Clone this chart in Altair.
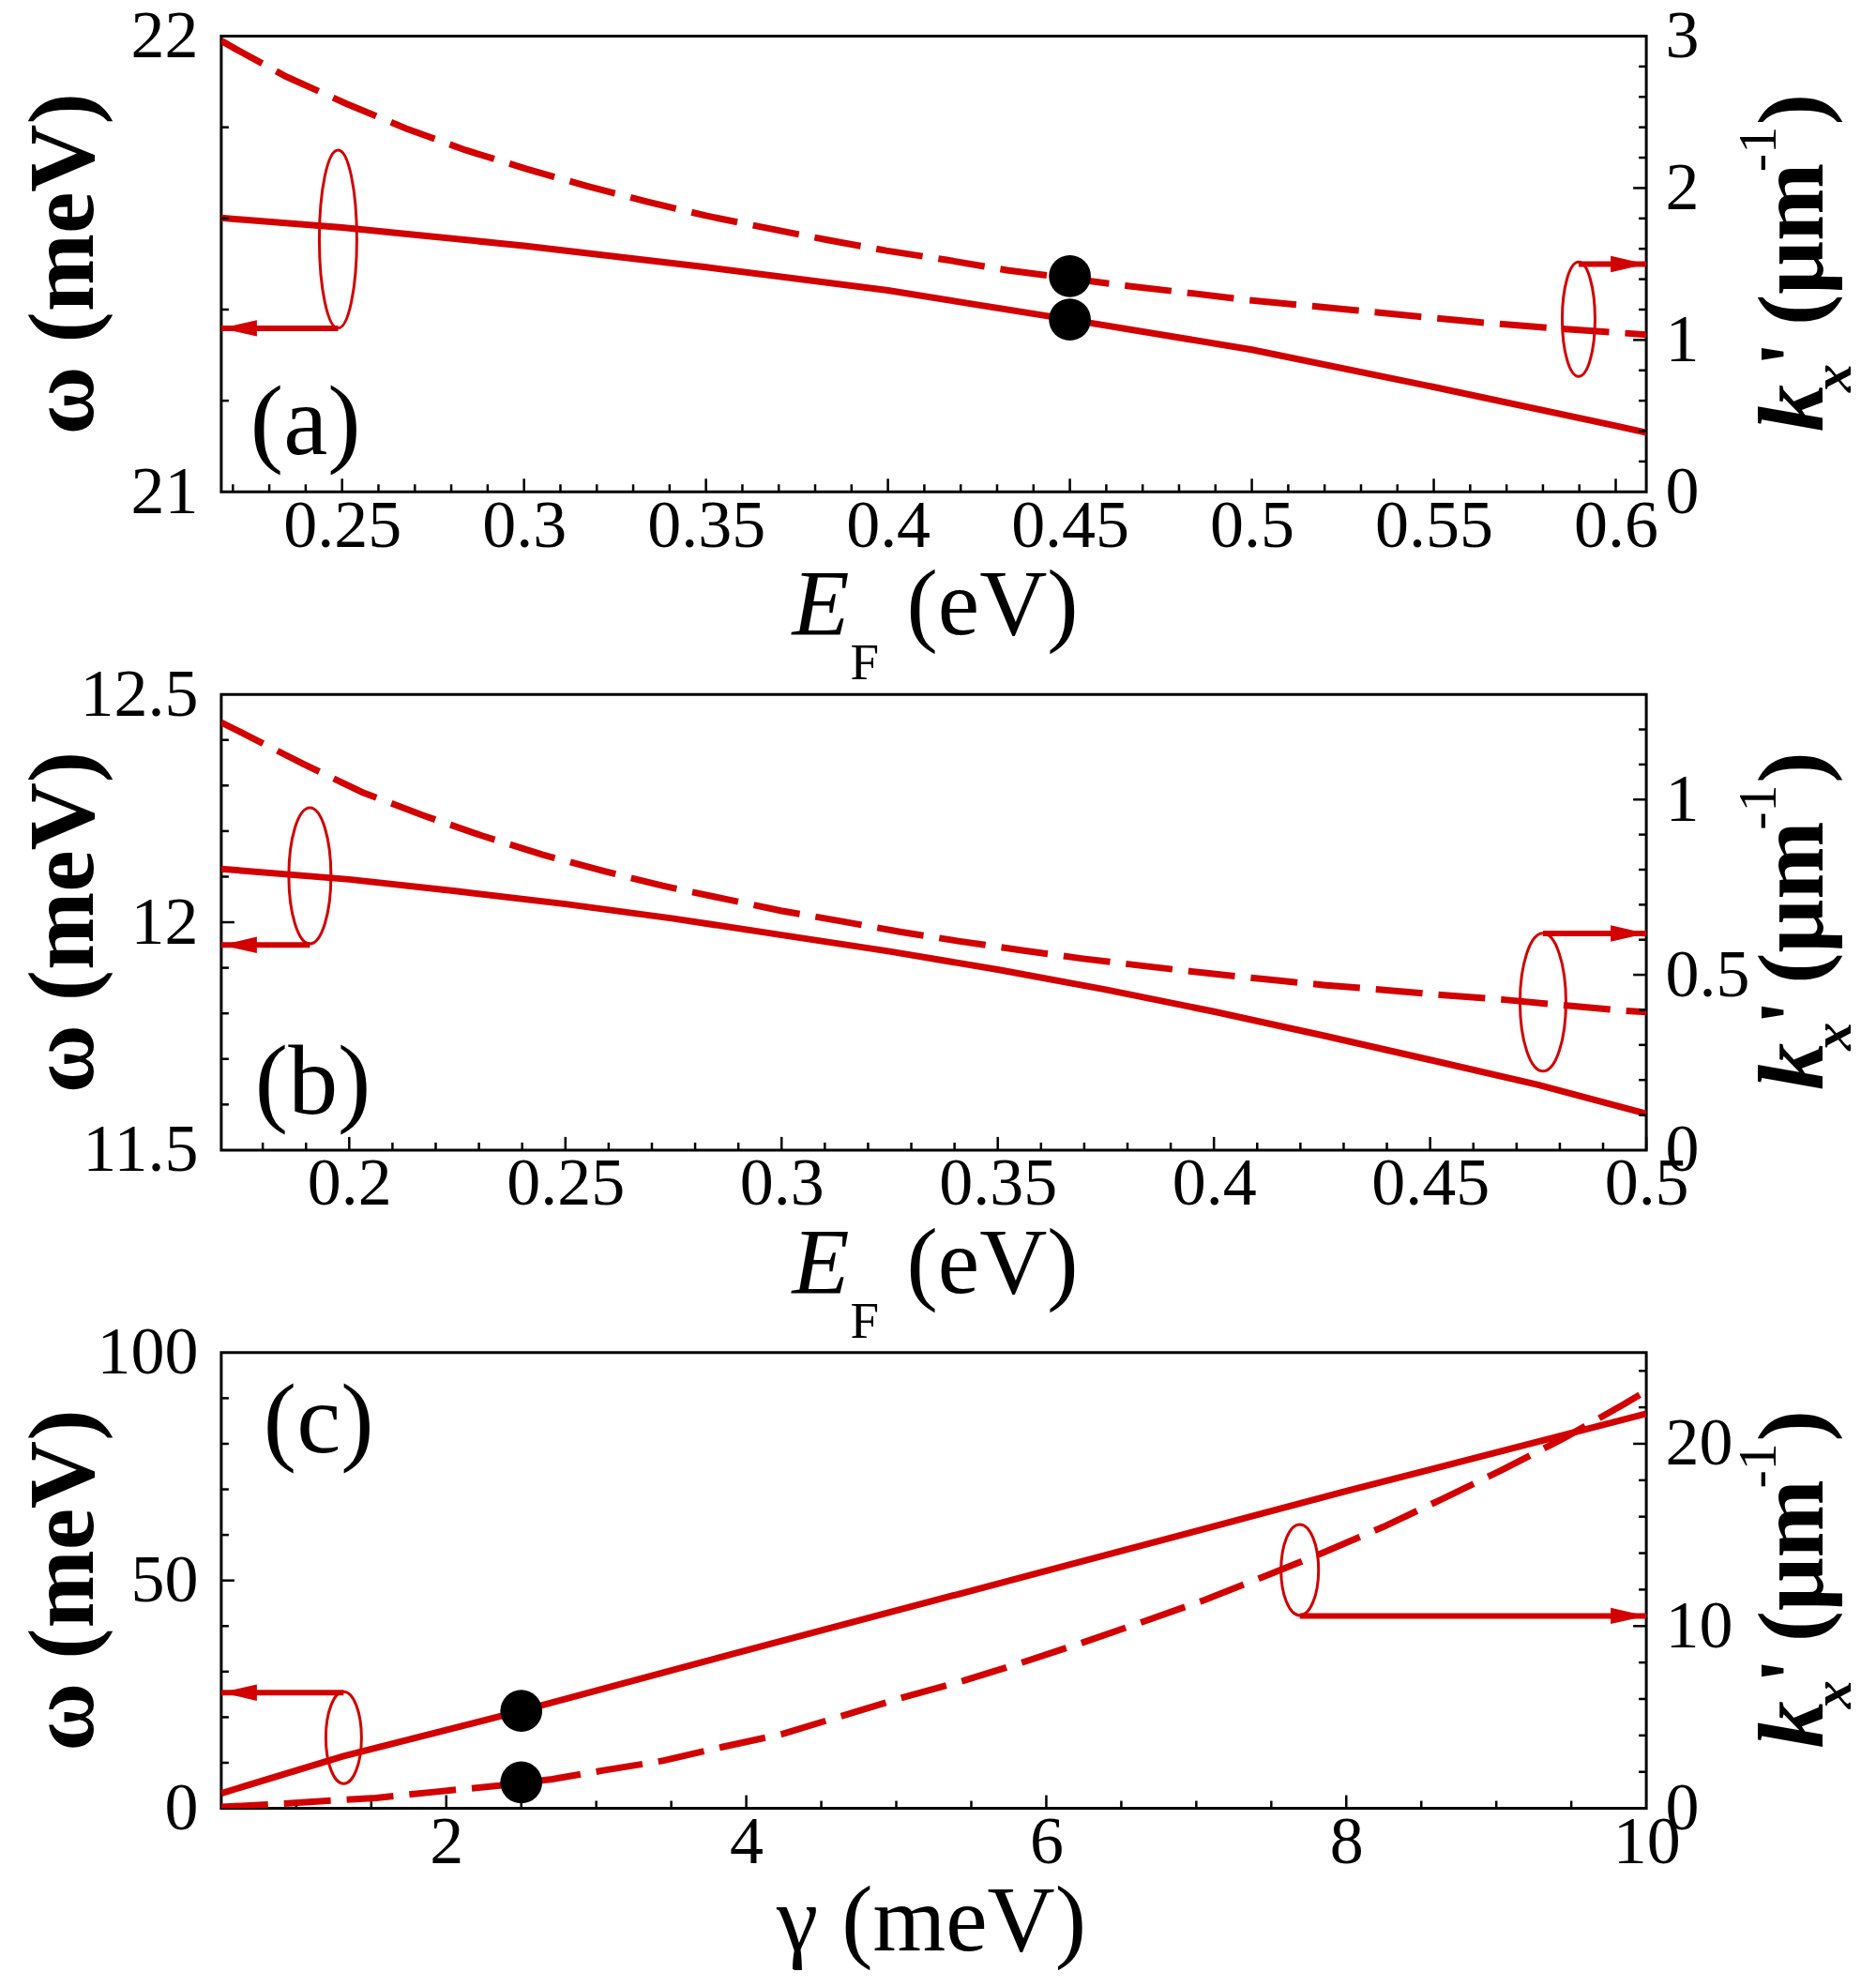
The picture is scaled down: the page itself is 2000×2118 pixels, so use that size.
import altair as alt
import pandas as pd

RED = "#d20000"
FONT = "Liberation Serif"
W, H = 1520, 486
LABEL_SIZE = 72

# ---------------- data: panel (a) ----------------
A_XDOM = [0.2168, 0.6084]
A_LDOM = [21, 22]
A_RDOM = [0, 3]
A_EF_W = [0.2168, 0.25, 0.30, 0.35, 0.40, 0.45, 0.50, 0.55, 0.60, 0.6084]
A_OMEGA = [21.601, 21.580, 21.540, 21.493, 21.442, 21.378, 21.312, 21.230, 21.145, 21.130]
A_EF_K = [0.2168, 0.2207, 0.2347, 0.2513, 0.2676, 0.2839, 0.3005, 0.3171, 0.3337, 0.3500,
          0.3668, 0.3834, 0.3995, 0.4161, 0.4327, 0.4658, 0.4824, 0.4990, 0.5278, 0.5449,
          0.5612, 0.5770, 0.5974, 0.6084]
A_KX = [2.97, 2.916, 2.733, 2.554, 2.392, 2.250, 2.127, 2.014, 1.911, 1.818,
        1.736, 1.658, 1.588, 1.527, 1.459, 1.356, 1.310, 1.263, 1.197, 1.156,
        1.119, 1.088, 1.053, 1.035]
A_DOT_X = [0.45]
A_DOT_W = [21.378]
A_DOT_K = [1.42]
A_XLAB = [0.25, 0.3, 0.35, 0.4, 0.45, 0.5, 0.55, 0.6]
A_LLAB = [21, 22]
A_RLAB = [0, 1, 2, 3]

# ---------------- data: panel (b) ----------------
B_XDOM = [0.1704, 0.5]
B_LDOM = [11.5, 12.5]
B_RDOM = [0, 1.3]
B_EF_W = [0.1704, 0.2, 0.225, 0.25, 0.275, 0.3, 0.325, 0.35, 0.375, 0.4, 0.425, 0.45, 0.475, 0.5]
B_OMEGA = [12.117, 12.094, 12.068, 12.040, 12.008, 11.972, 11.936, 11.896, 11.852, 11.804,
           11.752, 11.698, 11.643, 11.580]
B_EF_K = [0.1704, 0.1751, 0.1893, 0.2030, 0.2170, 0.2307, 0.2446, 0.2588, 0.2725, 0.2863,
          0.2998, 0.3137, 0.3277, 0.3416, 0.3556, 0.3697, 0.3833, 0.3974, 0.4114, 0.4253,
          0.4393, 0.4532, 0.4672, 0.4809, 0.4944, 0.5]
B_KX = [1.22, 1.191, 1.102, 1.021, 0.955, 0.897, 0.843, 0.796, 0.754, 0.718,
        0.683, 0.653, 0.622, 0.595, 0.570, 0.546, 0.526, 0.506, 0.488, 0.471,
        0.457, 0.442, 0.429, 0.413, 0.398, 0.394]
B_XLAB = [0.2, 0.25, 0.3, 0.35, 0.4, 0.45, 0.5]
B_LLAB = [11.5, 12, 12.5]
B_RLAB = [0, 0.5, 1]

# ---------------- data: panel (c) ----------------
C_XDOM = [0.5, 10]
C_LDOM = [0, 100]
C_RDOM = [0, 25]
C_GAMMA_W = [0.5, 1.31, 2.5, 4.0, 6.0, 8.0, 10.0]
C_OMEGA = [3.3, 11.4, 21.38, 34.7, 52.1, 69.6, 86.6]
C_GAMMA_K = [0.5, 0.778, 1.161, 1.532, 1.934, 2.355, 2.707, 3.047, 3.449, 3.838,
             4.240, 4.642, 5.032, 5.446, 5.835, 6.231, 6.639, 7.035, 7.443, 7.838,
             8.246, 8.642, 9.050, 9.446, 9.854, 10.0]
C_KX = [0.08, 0.19, 0.39, 0.57, 0.91, 1.25, 1.60, 2.08, 2.62, 3.36,
        4.08, 5.08, 6.05, 7.00, 7.99, 9.06, 10.22, 11.37, 12.69, 14.00,
        15.44, 16.98, 18.61, 20.29, 22.18, 22.9]
C_DOT_X = [2.5]
C_DOT_W = [21.38]
C_DOT_K = [1.42]
C_XLAB = [2, 4, 6, 8, 10]
C_LLAB = [0, 50, 100]
C_RLAB = [0, 10, 20]

# annotation ellipses: (x, y, width_px, height_px); arrows: (x_from, x_to, y)
A_ELL_L = (0.2489, 21.5545, 40, 190); A_ARR_L = (0.2489, 0.2168, 21.359)
A_ELL_R = (0.5898, 1.136, 35, 122);   A_ARR_R = (0.5898, 0.6084, 1.50)
B_ELL_L = (0.1909, 12.102, 45, 145);  B_ARR_L = (0.1909, 0.1704, 11.95)
B_ELL_R = (0.4761, 0.4218, 49, 147);  B_ARR_R = (0.4761, 0.5, 0.618)
C_ELL_L = (1.316, 15.5, 38, 98);      C_ARR_L = (1.316, 0.5, 25.4)
C_ELL_R = (7.69, 13.08, 40, 97);      C_ARR_R = (7.69, 10.0, 10.56)


def seq(lo, hi, step, exclude=()):
    n = int(round((hi - lo) / step))
    vals = [round(lo + i * step, 6) for i in range(n + 1)]
    return [v for v in vals if all(abs(v - e) > 1e-9 for e in exclude)]


def ell_path(w, h):
    r = w / h
    return f"M {-r:.4f} 0 A {r:.4f} 1 0 1 1 {r:.4f} 0 A {r:.4f} 1 0 1 1 {-r:.4f} 0 Z"


TRI_LEFT = "M -1 0 L 1 -0.46 L 1 0.46 Z"
TRI_RIGHT = "M 1 0 L -1 -0.46 L -1 0.46 Z"


def text_layer(text, x, y, size, weight="normal", style="normal", angle=0,
               align="left", baseline="alphabetic"):
    return alt.Chart(pd.DataFrame({"t": [text]})).mark_text(
        font=FONT, fontSize=size, fontWeight=weight, fontStyle=style, angle=angle,
        align=align, baseline=baseline, color="black"
    ).encode(x=alt.value(x), y=alt.value(y), text="t:N")


def panel(xdom, ldom, rdom, xlab, llab, rlab, xfmt, lfmt, rfmt,
          sx, sy, dx, dy, dot_x, dot_l, dot_r,
          ell_l, arr_l, ell_r, arr_r,
          x_major, x_minor, l_major, l_minor, r_major, r_minor,
          extra_texts):
    xs = alt.Scale(domain=xdom, nice=False, zero=False)
    ls = alt.Scale(domain=ldom, nice=False, zero=False)
    rs = alt.Scale(domain=rdom, nice=False, zero=False)
    common = dict(title=None, labelFont=FONT, labelFontSize=LABEL_SIZE, labelColor="black",
                  labelFontWeight="normal", ticks=False, domain=False, grid=False,
                  labelOverlap=False, labelFlush=False)
    xax = alt.Axis(values=xlab, format=xfmt, orient="bottom", labelPadding=1, **common)
    lax = alt.Axis(values=llab, format=lfmt, orient="left", labelPadding=25, **common)
    rax = alt.Axis(values=rlab, format=rfmt, orient="right", labelPadding=20, **common)
    X = alt.X("x:Q", scale=xs, axis=xax)
    YL = alt.Y("y:Q", scale=ls, axis=lax)
    YR = alt.Y("y:Q", scale=rs, axis=rax)

    def df(xv, yv):
        return pd.DataFrame({"x": xv, "y": yv})

    left = [
        alt.Chart(df(sx, sy)).mark_line(color=RED, strokeWidth=7, clip=True).encode(x=X, y=YL),
    ]
    if dot_x:
        left.append(alt.Chart(df(dot_x, dot_l)).mark_point(
            filled=True, color="black", size=2000, opacity=1, shape="circle").encode(x=X, y=YL))
    left.append(alt.Chart(df([ell_l[0]], [ell_l[1]])).mark_point(
        shape=ell_path(ell_l[2], ell_l[3]), size=ell_l[3] ** 2, filled=False,
        color=RED, strokeWidth=3, opacity=1).encode(x=X, y=YL))
    left.append(alt.Chart(pd.DataFrame({"x": [arr_l[0]], "x2": [arr_l[1]], "y": [arr_l[2]]}))
                .mark_rule(color=RED, strokeWidth=6).encode(x=X, x2="x2:Q", y=YL))
    left.append(alt.Chart(df([arr_l[1]], [arr_l[2]])).mark_point(
        shape=TRI_LEFT, size=1444, filled=True, color=RED, opacity=1, xOffset=19).encode(x=X, y=YL))
    # inward ticks: bottom and left
    left.append(alt.Chart(pd.DataFrame({"x": x_major})).mark_rule(color="black", strokeWidth=2.5)
                .encode(x=X, y=alt.value(H), y2=alt.value(H - 14)))
    left.append(alt.Chart(pd.DataFrame({"x": x_minor})).mark_rule(color="black", strokeWidth=2.5)
                .encode(x=X, y=alt.value(H), y2=alt.value(H - 8)))
    if l_major:
        left.append(alt.Chart(pd.DataFrame({"y": l_major})).mark_rule(color="black", strokeWidth=2.5)
                    .encode(y=YL, x=alt.value(0), x2=alt.value(14)))
    left.append(alt.Chart(pd.DataFrame({"y": l_minor})).mark_rule(color="black", strokeWidth=2.5)
                .encode(y=YL, x=alt.value(0), x2=alt.value(8)))
    # titles
    left.append(text_layer("ω (meV)", -137, H / 2, 100, weight="bold", angle=270, align="center"))
    c = H / 2
    left.append(text_layer("k", W + 188, c + 178.7, 100, weight="bold", style="italic", angle=270))
    left.append(text_layer("x", W + 218, c + 136.7, 60, weight="bold", style="italic", angle=270))
    left.append(text_layer("'", W + 188, c + 110, 100, weight="bold", angle=270))
    left.append(text_layer("(μm", W + 188, c + 65.7, 100, weight="bold", angle=270))
    left.append(text_layer("-1", W + 138, c - 98.3, 58, angle=270))
    left.append(text_layer(")", W + 188, c - 148.3, 100, weight="bold", angle=270))
    left.extend(extra_texts)

    right = [
        alt.Chart(df(dx, dy)).mark_line(color=RED, strokeWidth=7, strokeDash=[50, 17],
                                        clip=True).encode(x=X, y=YR),
    ]
    if dot_x:
        right.append(alt.Chart(df(dot_x, dot_r)).mark_point(
            filled=True, color="black", size=2000, opacity=1, shape="circle").encode(x=X, y=YR))
    right.append(alt.Chart(df([ell_r[0]], [ell_r[1]])).mark_point(
        shape=ell_path(ell_r[2], ell_r[3]), size=ell_r[3] ** 2, filled=False,
        color=RED, strokeWidth=3, opacity=1).encode(x=X, y=YR))
    right.append(alt.Chart(pd.DataFrame({"x": [arr_r[0]], "x2": [arr_r[1]], "y": [arr_r[2]]}))
                 .mark_rule(color=RED, strokeWidth=6).encode(x=X, x2="x2:Q", y=YR))
    right.append(alt.Chart(df([arr_r[1]], [arr_r[2]])).mark_point(
        shape=TRI_RIGHT, size=1444, filled=True, color=RED, opacity=1, xOffset=-19).encode(x=X, y=YR))
    right.append(alt.Chart(pd.DataFrame({"y": r_major})).mark_rule(color="black", strokeWidth=2.5)
                 .encode(y=YR, x=alt.value(W), x2=alt.value(W - 14)))
    right.append(alt.Chart(pd.DataFrame({"y": r_minor})).mark_rule(color="black", strokeWidth=2.5)
                 .encode(y=YR, x=alt.value(W), x2=alt.value(W - 8)))

    return alt.layer(alt.layer(*left), alt.layer(*right)).resolve_scale(y="independent").properties(
        width=W, height=H)


def ef_title():
    return [
        text_layer("E", 609, H + 152, 100, style="italic"),
        text_layer("F", 671, H + 200, 55),
        text_layer("(eV)", 731, H + 152, 100),
    ]


pa = panel(A_XDOM, A_LDOM, A_RDOM, A_XLAB, A_LLAB, A_RLAB, ".2~f", ".1~f", ".1~f",
           A_EF_W, A_OMEGA, A_EF_K, A_KX, A_DOT_X, A_DOT_W, A_DOT_K,
           A_ELL_L, A_ARR_L, A_ELL_R, A_ARR_R,
           A_XLAB, seq(0.22, 0.60, 0.01, A_XLAB), [], seq(21.2, 21.8, 0.2),
           [1, 2], seq(0.2, 2.8, 0.2, [1, 2]),
           ef_title() + [text_layer("(a)", 31, 445.5, 106)])

pb = panel(B_XDOM, B_LDOM, B_RDOM, B_XLAB, B_LLAB, B_RLAB, ".2~f", ".1~f", ".1~f",
           B_EF_W, B_OMEGA, B_EF_K, B_KX, [], [], [],
           B_ELL_L, B_ARR_L, B_ELL_R, B_ARR_R,
           B_XLAB, seq(0.18, 0.49, 0.01, B_XLAB), [12], seq(11.6, 12.4, 0.1, [12]),
           [0.5, 1.0], seq(0.1, 1.2, 0.1, [0.5, 1.0]),
           ef_title() + [text_layer("(b)", 36, 447, 106)])

pc = panel(C_XDOM, C_LDOM, C_RDOM, C_XLAB, C_LLAB, C_RLAB, ".1~f", ".1~f", ".1~f",
           C_GAMMA_W, C_OMEGA, C_GAMMA_K, C_KX, C_DOT_X, C_DOT_W, C_DOT_K,
           C_ELL_L, C_ARR_L, C_ELL_R, C_ARR_R,
           [2, 4, 6, 8], seq(1.0, 9.5, 0.5, [2, 4, 6, 8]), [50], seq(10, 90, 10, [50]),
           [10, 20], seq(2, 24, 2, [10, 20]),
           [text_layer("γ (meV)", 757.5, H + 152, 100, align="center"),
            text_layer("(c)", 45, 106, 106)])

chart = alt.vconcat(pa, pb, pc, spacing=216, bounds="flush").properties(
    padding={"left": 9, "top": -8, "right": 5, "bottom": 0},
    background="white",
).configure_view(
    stroke="black", strokeWidth=3
).configure_axis(
    labelFont=FONT, labelFontSize=LABEL_SIZE, labelColor="black", labelFontWeight="normal",
    ticks=False, domain=False, grid=False, labelOverlap=False, labelFlush=False
)

chart.save("out.html", embed_options={"renderer": "svg", "actions": False})
